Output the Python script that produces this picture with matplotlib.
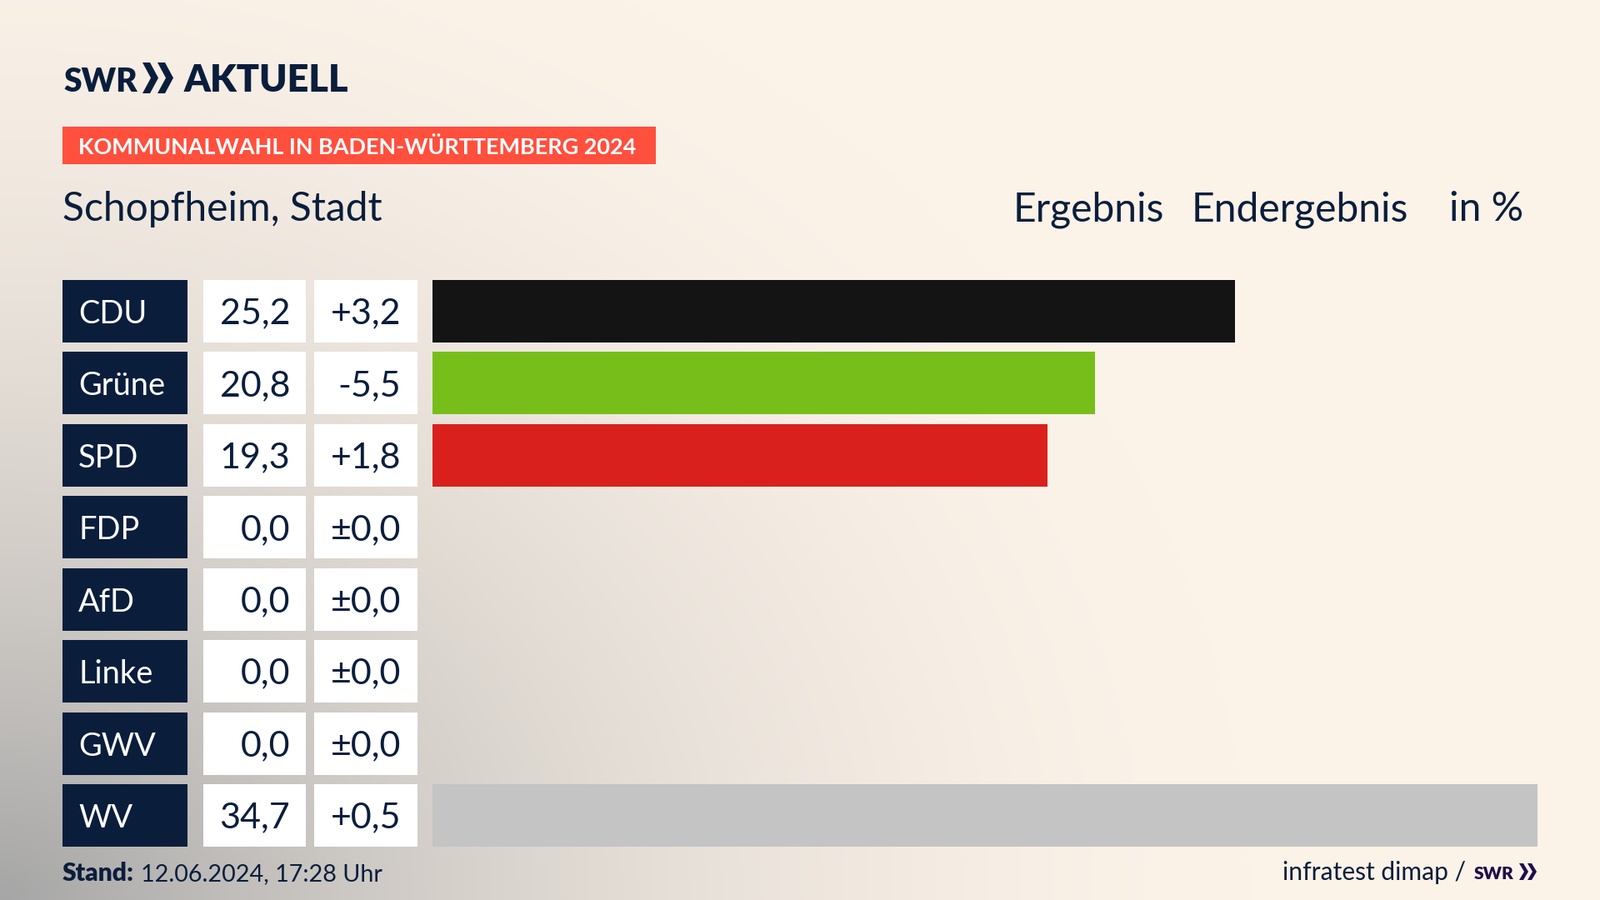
import matplotlib
matplotlib.use("Agg")
import matplotlib.pyplot as plt
from matplotlib.patches import Rectangle, Polygon
import numpy as np

# data
parties = ["CDU", "Grüne", "SPD", "FDP", "AfD", "Linke", "GWV", "WV"]
results = [25.2, 20.8, 19.3, 0.0, 0.0, 0.0, 0.0, 34.7]
changes = [3.2, -5.5, 1.8, 0.0, 0.0, 0.0, 0.0, 0.5]
colors = ["#141414", "#78BE1A", "#D9201C", "#FFD600", "#009EE0", "#BE3075", "#C4C4C4", "#C4C4C4"]

NAVY = "#0A1E3C"
CREAM = "#FBF2E8"
FONT = "Lato"

def fmt_val(v):
    return f"{v:.1f}".replace(".", ",")

def fmt_diff(v):
    if v == 0:
        return "±0,0"
    return f"{v:+.1f}".replace(".", ",")

fig = plt.figure(figsize=(19.2, 10.8), dpi=100)

# page axes, units are pixels
page = fig.add_axes([0, 0, 1, 1])
page.axis("off")

# grey glow out of the lower left corner
xx, yy = np.meshgrid(np.linspace(0, 1920, 480), np.linspace(0, 1080, 270))
d = np.sqrt((xx / 1500) ** 2 + ((1080 - yy) / 1250) ** 2)
k = np.clip(1 - d, 0, 1) ** 1.8
k = k[..., None]
base = np.array(matplotlib.colors.to_rgb(CREAM))
grey = np.array(matplotlib.colors.to_rgb("#A6A6A6"))
page.imshow(base * (1 - k) + grey * k, extent=(0, 1920, 1080, 0), aspect="auto", zorder=0)
page.set_xlim(0, 1920)
page.set_ylim(1080, 0)

def txt(x, y, s, px, color=NAVY, weight="normal", ha="left", family=FONT):
    page.text(x, y, s, fontsize=px * 0.72, color=color, fontweight=weight, ha=ha, va="baseline", family=family)

def chevrons(x, top, bottom, w, t, gap, color):
    mid = (top + bottom) / 2
    for i in range(2):
        x0 = x + i * gap
        page.add_patch(Polygon([(x0, top), (x0 + t, top), (x0 + w, mid), (x0 + t, bottom), (x0, bottom), (x0 + w - t, mid)],
                               closed=True, fc=color, ec="none", zorder=3))

# logo
txt(76, 110, "SWR", 39, weight=900)
chevrons(171, 75, 112, 19, 9, 18, NAVY)
txt(221, 110, "AKTUELL", 45, weight=900)

# header
page.add_patch(Rectangle((75, 152), 712, 45, fc="#FF4F3D", ec="none", zorder=2))
txt(94, 185, "KOMMUNALWAHL IN BADEN-WÜRTTEMBERG 2024", 27, color="white", weight="bold")
txt(75, 265, "Schopfheim, Stadt", 48)
txt(1216, 265, "Ergebnis", 48)
txt(1430, 265, "Endergebnis", 48)
txt(1739, 265, "in %", 48)

# table cells
row_h = 75
pitch = (941 - 336) / 7
for i, name in enumerate(parties):
    top = 336 + i * pitch
    page.add_patch(Rectangle((75, top), 150, row_h, fc=NAVY, ec="none", zorder=2))
    page.add_patch(Rectangle((244, top), 123, row_h, fc="white", ec="none", zorder=2))
    page.add_patch(Rectangle((377, top), 124, row_h, fc="white", ec="none", zorder=2))
    txt(94, top + 52, name, 38, color="white")
    txt(348, top + 52.5, fmt_val(results[i]), 43, ha="right")
    txt(481, top + 52.5, fmt_diff(changes[i]), 43, ha="right")

# bars
bar_top = 336 - (pitch - row_h) / 2
bar_bottom = 1016 + (pitch - row_h) / 2
ax = fig.add_axes([519 / 1920, 1 - bar_bottom / 1080, (1845 - 519) / 1920, (bar_bottom - bar_top) / 1080])
ax.patch.set_alpha(0)
ax.barh(range(len(parties)), results, height=row_h / pitch, color=colors)
ax.set_xlim(0, max(results))
ax.set_ylim(len(parties) - 0.5, -0.5)
ax.axis("off")

# footer
txt(75, 1057, "Stand:", 30, weight=900)
txt(169, 1057, "12.06.2024, 17:28 Uhr", 28.7)
txt(1539, 1056, "infratest dimap /", 30)
txt(1769, 1055, "SWR", 21, color="#1E0F4B", weight=900)
chevrons(1823, 1036, 1056, 11, 5, 10, "#1E0F4B")

fig.savefig("out.png", dpi=100)
